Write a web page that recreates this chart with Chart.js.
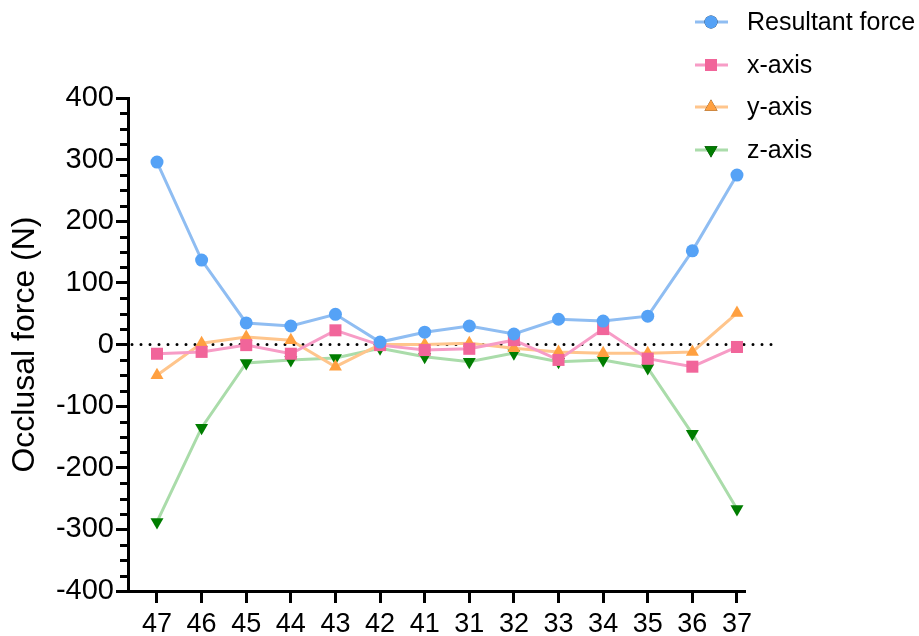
<!DOCTYPE html>
<html>
<head>
<meta charset="utf-8">
<script src="https://cdn.jsdelivr.net/npm/chart.js@4/dist/chart.umd.min.js"></script>
<style>
  body { margin: 0; background: #fff; }
  #wrap { width: 919px; height: 636px; position: relative; }
</style>
</head>
<body>
<div id="wrap"><canvas id="myChart"></canvas></div>
<script>
const teeth = ['47', '46', '45', '44', '43', '42', '41', '31', '32', '33', '34', '35', '36', '37']
const resultant = [296, 137, 35, 30, 49, 4, 20, 30, 17, 41, 38, 46, 152, 275]
const xAxis = [-15, -12, -1, -15, 23, -1, -9, -7, 7, -25, 25, -23, -36, -4]
const yAxis = [-50, 2, 12, 7, -36, 0, 0, 2, -6, -12, -14, -14, -12, 51]
const zAxis = [-288, -135, -30, -25, -22, -6, -20, -28, -14, -28, -25, -38, -145, -267]
const yTicks = [-400, -300, -200, -100, 0, 100, 200, 300, 400]

const FONT = "'Liberation Sans', Arial, sans-serif"

const series = [
    { label: 'Resultant force', data: resultant, line: '#8fbdf2', mark: '#55a2f6', style: 'circle', radius: 6.5, rotation: 0 },
    { label: 'x-axis', data: xAxis, line: '#f79cc6', mark: '#f1659a', style: 'rect', radius: 8.5, rotation: 0 },
    { label: 'y-axis', data: yAxis, line: '#ffc58c', mark: '#ffa040', style: 'triangle', radius: 7.5, rotation: 0 },
    { label: 'z-axis', data: zAxis, line: '#aadcaa', mark: '#007d00', style: 'triangle', radius: 7.5, rotation: 180 }
]

function toPoints(values) {
    return values.map(function (v, i) { return { x: i, y: v } })
}

// minor ticks, dotted zero line and the legend with line + marker
const extras = {
    id: 'extras',
    beforeDatasetsDraw(chart) {
        const ctx = chart.ctx
        const y = chart.scales.y
        const area = chart.chartArea
        const y0 = y.getPixelForValue(0)
        ctx.save()
        ctx.strokeStyle = '#000'
        ctx.lineWidth = 3
        ctx.lineCap = 'round'
        ctx.setLineDash([0, 9])
        ctx.beginPath()
        ctx.moveTo(area.left + 4, y0)
        ctx.lineTo(area.right + 32, y0)
        ctx.stroke()
        ctx.restore()
    },
    afterDraw(chart) {
        const ctx = chart.ctx
        const y = chart.scales.y
        const left = chart.chartArea.left
        ctx.save()
        ctx.strokeStyle = '#000'
        ctx.lineWidth = 3
        for (let v = -400; v <= 400; v += 25) {
            if (v % 100 === 0) continue
            const py = Math.round(y.getPixelForValue(v)) + 0.5
            ctx.beginPath()
            ctx.moveTo(left - 8, py)
            ctx.lineTo(left, py)
            ctx.stroke()
        }

        // legend
        const rowY = [22, 65, 107, 150]
        series.forEach(function (s, i) {
            const cy = rowY[i]
            ctx.strokeStyle = s.line
            ctx.lineWidth = 3
            ctx.beginPath()
            ctx.moveTo(695, cy)
            ctx.lineTo(728, cy)
            ctx.stroke()
            Chart.helpers.drawPoint(ctx, {
                pointStyle: s.style,
                radius: s.radius,
                rotation: s.rotation,
                borderWidth: 0
            }, 711, cy)
            ctx.fillStyle = s.mark
            ctx.fill()
            ctx.fillStyle = '#000'
            ctx.font = '25px ' + FONT
            ctx.textAlign = 'left'
            ctx.textBaseline = 'middle'
            ctx.fillText(s.label, 747, cy + 1)
        })
        ctx.restore()
    }
}

let ctx = document.getElementById('myChart')
let myChart = new Chart(ctx, {
    type: 'line',
    data: {
        datasets: series.map(function (s) {
            return {
                label: s.label,
                data: toPoints(s.data),
                borderColor: s.line,
                borderWidth: 3,
                backgroundColor: s.mark,
                pointBackgroundColor: s.mark,
                pointBorderWidth: 0,
                pointStyle: s.style,
                pointRadius: s.radius,
                pointRotation: s.rotation,
                tension: 0
            }
        })
    },
    options: {
        responsive: true,
        maintainAspectRatio: false,
        animation: false,
        layout: { padding: { top: 98, right: 174, left: 0, bottom: 0 } },
        plugins: {
            legend: { display: false },
            tooltip: { enabled: false }
        },
        scales: {
            x: {
                type: 'linear',
                min: -0.65,
                max: 13.18,
                afterBuildTicks: function (scale) {
                    scale.ticks = teeth.map(function (t, i) { return { value: i } })
                },
                afterFit: function (scale) { scale.height = 45 },
                ticks: {
                    callback: function (v) { return teeth[v] },
                    color: '#000',
                    font: { size: 27, family: FONT },
                    padding: 5,
                    maxRotation: 0,
                    autoSkip: false
                },
                grid: { display: true, drawOnChartArea: false, drawTicks: true, tickLength: 12, tickWidth: 3, tickColor: '#000' },
                border: { display: true, width: 3, color: '#000' }
            },
            y: {
                min: -400,
                max: 400,
                afterBuildTicks: function (scale) {
                    scale.ticks = yTicks.map(function (v) { return { value: v } })
                },
                afterFit: function (scale) { scale.width = 128 },
                ticks: {
                    color: '#000',
                    font: { size: 29, family: FONT },
                    padding: 2
                },
                grid: { display: true, drawOnChartArea: false, drawTicks: true, tickLength: 12, tickWidth: 3, tickColor: '#000' },
                border: { display: true, width: 3, color: '#000' },
                title: {
                    display: true,
                    text: 'Occlusal force (N)',
                    color: '#000',
                    font: { size: 32, family: FONT },
                    padding: { top: 6, bottom: 0 }
                }
            }
        }
    },
    plugins: [extras]
});
</script>
</body>
</html>
